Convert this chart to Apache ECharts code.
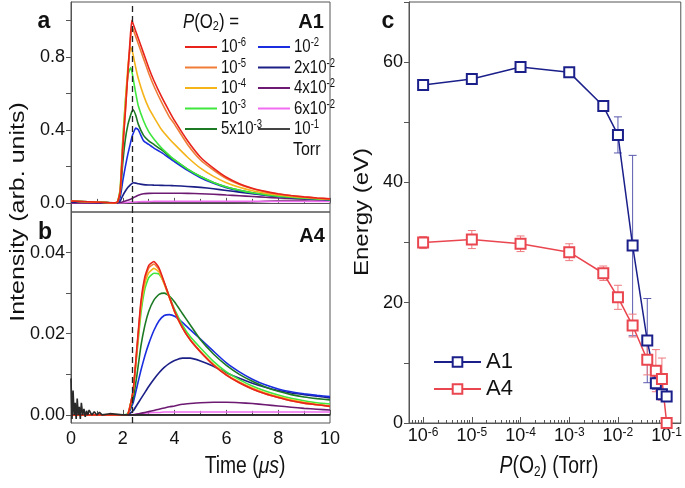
<!DOCTYPE html>
<html><head><meta charset="utf-8">
<script src="https://cdn.jsdelivr.net/npm/echarts@6/dist/echarts.min.js"></script>
<style>html,body{margin:0;padding:0;background:#fff}#c{width:685px;height:488px}</style>
</head><body><div id="c"></div>
<script>
// ---------- DATA ----------
const seriesNames = ['10^-6','10^-5','10^-4','10^-3','5x10^-3','10^-2','2x10^-2','4x10^-2','6x10^-2','10^-1'];
const dashT = 2.35;

// panel a (A1), time in microseconds
const tA = [0,1.7,1.8,1.9,2.0,2.1,2.2,2.3,2.35,2.4,2.5,2.6,2.8,3.0,3.2,3.5,3.8,4.0,4.5,5.0,5.5,6.0,6.5,7.0,7.5,8.0,8.5,9.0,9.5,10];
const a_p1e6 = [0.01,0,0.005,0.06,0.3,0.5,0.72,0.93,1.0,0.98,0.94,0.9,0.82,0.74,0.67,0.58,0.5,0.45,0.34,0.25,0.19,0.14,0.105,0.08,0.063,0.05,0.04,0.033,0.027,0.022];
const a_p1e5 = [0.01,0,0.005,0.06,0.31,0.51,0.72,0.9,0.96,0.95,0.91,0.87,0.79,0.71,0.64,0.55,0.47,0.43,0.32,0.235,0.18,0.133,0.1,0.077,0.06,0.048,0.039,0.032,0.026,0.021];
const a_p1e4 = [0.01,0,0.006,0.07,0.33,0.55,0.75,0.85,0.84,0.81,0.74,0.68,0.59,0.52,0.47,0.4,0.35,0.32,0.25,0.19,0.145,0.11,0.085,0.066,0.053,0.043,0.035,0.029,0.024,0.02];
const a_p1e3 = [0.01,0,0.006,0.08,0.35,0.56,0.7,0.74,0.72,0.68,0.6,0.53,0.45,0.39,0.35,0.3,0.26,0.235,0.185,0.144,0.112,0.087,0.069,0.055,0.045,0.037,0.031,0.026,0.022,0.018];
const a_p5e3 = [0.01,0,0.004,0.05,0.22,0.35,0.43,0.48,0.5,0.51,0.48,0.43,0.37,0.34,0.32,0.29,0.255,0.235,0.185,0.144,0.112,0.087,0.069,0.055,0.045,0.037,0.031,0.026,0.022,0.018];
const a_p1e2 = [0.01,0,0.003,0.03,0.12,0.2,0.27,0.33,0.36,0.38,0.41,0.4,0.34,0.32,0.3,0.275,0.245,0.225,0.178,0.138,0.107,0.083,0.066,0.053,0.043,0.035,0.029,0.024,0.02,0.017];
const a_p2e2 = [0.005,0,0.002,0.01,0.04,0.065,0.085,0.1,0.105,0.11,0.108,0.105,0.1,0.098,0.097,0.096,0.095,0.094,0.09,0.085,0.077,0.068,0.059,0.05,0.042,0.035,0.03,0.026,0.022,0.018];
const a_p4e2 = [0,0,0,0.002,0.006,0.01,0.015,0.02,0.024,0.028,0.035,0.042,0.05,0.052,0.053,0.053,0.053,0.053,0.052,0.05,0.047,0.043,0.039,0.035,0.031,0.027,0.024,0.021,0.018,0.016];
const a_p6e2 = [0,0,0,0,0.001,0.002,0.003,0.004,0.004,0.005,0.005,0.006,0.007,0.007,0.008,0.008,0.008,0.008,0.008,0.008,0.008,0.008,0.008,0.008,0.008,0.008,0.008,0.008,0.008,0.008];
const a_p1e1 = [0.008,0,0,0,0,0,0,0,0,0,0,0,0,0,0,0,0,0,0,0,0,0,0.002,0.005,0.008,0.011,0.013,0.015,0.017,0.018];

// panel b (A4)
const tB = [0,0.1,0.2,0.3,0.4,0.5,0.7,1.0,1.5,2.0,2.2,2.4,2.55,2.7,2.85,3.0,3.2,3.4,3.6,3.8,4.0,4.3,4.6,5.0,5.5,6.0,6.5,7.0,7.5,8.0,8.5,9.0,9.5,10];
const z10 = [0,0,0,0,0,0,0,0,0,0];
const b_p1e6 = z10.concat([0.0002,0.006,0.017,0.028,0.034,0.0368,0.0378,0.0362,0.0327,0.029,0.0255,0.0215,0.0185,0.0155,0.0123,0.0098,0.0079,0.0064,0.0052,0.0043,0.0035,0.0029,0.0025,0.0021]);
const b_p1e5 = z10.concat([0.0002,0.006,0.0165,0.0273,0.0333,0.0362,0.0372,0.0358,0.0325,0.029,0.0255,0.0215,0.0185,0.0155,0.0123,0.0098,0.0079,0.0064,0.0052,0.0043,0.0035,0.0029,0.0025,0.0021]);
const b_p1e4 = z10.concat([0.0002,0.006,0.016,0.0265,0.0322,0.035,0.0361,0.0352,0.0322,0.0288,0.0254,0.0215,0.0186,0.0157,0.0125,0.01,0.0081,0.0066,0.0054,0.0045,0.0037,0.0031,0.0026,0.0022]);
const b_p1e3 = z10.concat([0.0003,0.006,0.0155,0.025,0.031,0.0338,0.0349,0.0347,0.0325,0.0292,0.026,0.0222,0.0193,0.0165,0.0132,0.0106,0.0087,0.0071,0.0059,0.0049,0.0041,0.0035,0.003,0.0027]);
const b_p5e3 = z10.concat([0.0002,0.004,0.01,0.017,0.022,0.0255,0.0283,0.0297,0.03,0.0293,0.0278,0.025,0.0222,0.0185,0.015,0.0122,0.01,0.0083,0.0069,0.0058,0.005,0.0044,0.004,0.0037]);
const b_p1e2 = z10.concat([0.0002,0.003,0.007,0.011,0.0145,0.0175,0.0208,0.0232,0.0245,0.0247,0.0243,0.0228,0.021,0.0187,0.0157,0.0128,0.0106,0.0088,0.0074,0.0064,0.0057,0.0052,0.0048,0.0045]);
const b_p2e2 = z10.concat([0.0001,0.001,0.0025,0.004,0.0055,0.007,0.0088,0.0104,0.0117,0.0127,0.0134,0.014,0.014,0.0133,0.012,0.0104,0.009,0.0078,0.0068,0.006,0.0054,0.005,0.0046,0.0042]);
const b_p4e2 = z10.concat([0,0,0.0002,0.0004,0.0006,0.0008,0.0011,0.0014,0.0017,0.002,0.0022,0.0026,0.0028,0.003,0.0031,0.0031,0.003,0.0028,0.0025,0.0022,0.0019,0.0016,0.0014,0.0012]);
const b_p6e2 = z10.concat([0,0.0001,0.0002,0.0003,0.0004,0.0005,0.0006,0.0006,0.0007,0.0007,0.0007,0.0007,0.0007,0.0007,0.0007,0.0007,0.0007,0.0007,0.0007,0.0007,0.0007,0.0007,0.0007,0.0007]);
// 10^-1 Torr trace in panel b: only the early ringing near t = 0 is visible
const tB_p1e1 = [0,0.04,0.08,0.12,0.16,0.2,0.24,0.28,0.32,0.36,0.4,0.45,0.5,0.55,0.6,0.65,0.7,0.8,0.9,1.0,1.1,1.2,1.5,2.0,10];
const b_p1e1 = [0.009,-0.001,0.006,0.0,0.003,-0.001,0.004,0.0,0.002,-0.001,0.003,0.0,0.0015,-0.0005,0.001,0.0,0.0012,0.0,0.0008,0.0,0.0006,0.0,0.0003,0,0];

// panel c
const pressures = [1e-6,1e-5,1e-4,1e-3,5e-3,1e-2,2e-2,4e-2,6e-2,8e-2,1e-1];
const energyA1 = [56.2,57.2,59.2,58.3,52.7,47.9,29.5,13.7,6.6,4.8,4.4];
const errA1 = [0.5,0.6,0.7,0.6,0.8,3,15,7,1,0.8,0.5];
const energyA4 = [30.0,30.5,29.8,28.4,24.9,20.9,16.2,10.5,8.7,7.3,0.0];
const errA4 = [1,1.5,1.3,1.4,1.2,2,1.9,2.5,3.5,3.5,0.5];
const decadeExps = [-6,-5,-4,-3,-2,-1];

// ---------- STYLE ----------
const colors = ['#e8231c','#ef7d38','#f4b41a','#3ee63e','#1c7a25','#1a2ee0','#1b1f86','#6c1a72','#f06cf0','#444444'];
const FN = '"Liberation Sans",Arial,sans-serif';
const TXT = '#111';
const AX = '#555';
const SQ = 0.84; // horizontal squeeze of the original lettering
const rich = {
  s: {fontSize: 12, fontFamily: FN, verticalAlign: 'top', lineHeight: 12, color: TXT},
  sub: {fontSize: 14, fontFamily: FN, lineHeight: 14, padding: [12,0,0,0], verticalAlign: 'bottom', color: TXT},
  i: {fontStyle: 'italic', fontSize: 23, fontFamily: FN, color: TXT, lineHeight: 24},
  n: {fontSize: 23, fontFamily: FN, color: TXT, lineHeight: 24},
  ls: {fontSize: 12, fontFamily: FN, verticalAlign: 'top', lineHeight: 12, color: TXT},
  ln: {fontSize: 19, fontFamily: FN, color: TXT, lineHeight: 20},
  li: {fontStyle: 'italic', fontSize: 20, fontFamily: FN, color: TXT, lineHeight: 22},
  lnn: {fontSize: 20, fontFamily: FN, color: TXT, lineHeight: 22},
  lsub: {fontSize: 13, fontFamily: FN, lineHeight: 13, padding: [11,0,0,0], verticalAlign: 'bottom', color: TXT}
};

const aData = [a_p1e6,a_p1e5,a_p1e4,a_p1e3,a_p5e3,a_p1e2,a_p2e2,a_p4e2,a_p6e2,a_p1e1];
const bData = [b_p1e6,b_p1e5,b_p1e4,b_p1e3,b_p5e3,b_p1e2,b_p2e2,b_p4e2,b_p6e2,b_p1e1];

const series = [];
for (let i = seriesNames.length - 1; i >= 0; i--) {
  const tb = i === 9 ? tB_p1e1 : tB;
  series.push({
    type: 'line', name: seriesNames[i], xAxisIndex: 0, yAxisIndex: 0,
    data: tA.map((t, k) => [t, aData[i][k]]), symbol: 'none', smooth: 0.15,
    lineStyle: {color: colors[i], width: 1.6}, itemStyle: {color: colors[i]},
    z: 2, animation: false
  });
  series.push({
    type: 'line', name: seriesNames[i], xAxisIndex: 1, yAxisIndex: 1,
    data: tb.map((t, k) => [t, bData[i][k]]), symbol: 'none', smooth: i === 9 ? 0 : 0.15,
    lineStyle: {color: i === 9 ? '#2a2a2a' : colors[i], width: 1.6}, itemStyle: {color: colors[i]},
    z: i === 9 ? 3 : 2, animation: false
  });
}
const dashML = {silent: true, symbol: 'none', animation: false, label: {show: false},
  lineStyle: {type: [6,4], color: '#222', width: 1.3}, data: [{xAxis: dashT}]};
series[0].markLine = dashML;
series[1].markLine = dashML;

function errSeries(vals, errs, color) {
  return {
    type: 'custom', xAxisIndex: 2, yAxisIndex: 2, clip: true, silent: true, z: 1, animation: false,
    data: pressures.map((p, i) => [Math.log10(p), vals[i] - errs[i], vals[i] + errs[i]]),
    encode: {x: 0, y: [1, 2]},
    renderItem: function (params, api) {
      const x = api.value(0);
      const lo = api.coord([x, api.value(1)]);
      const hi = api.coord([x, api.value(2)]);
      const w = 4;
      const st = {stroke: color, lineWidth: 1};
      return {type: 'group', children: [
        {type: 'line', shape: {x1: lo[0], y1: lo[1], x2: hi[0], y2: hi[1]}, style: st},
        {type: 'line', shape: {x1: lo[0]-w, y1: lo[1], x2: lo[0]+w, y2: lo[1]}, style: st},
        {type: 'line', shape: {x1: hi[0]-w, y1: hi[1], x2: hi[0]+w, y2: hi[1]}, style: st}
      ]};
    }
  };
}
series.push(errSeries(energyA1, errA1, '#5a5ab0'));
series.push(errSeries(energyA4, errA4, '#ee7a7f'));
const cA1 = '#1b1f8a', cA4 = '#ea4650';
series.push({type: 'line', name: 'A1', xAxisIndex: 2, yAxisIndex: 2, animation: false,
  data: pressures.map((p, i) => [Math.log10(p), energyA1[i]]),
  symbol: 'rect', symbolSize: 10, lineStyle: {color: cA1, width: 1.5},
  itemStyle: {color: '#fff', borderColor: cA1, borderWidth: 2}, z: 3});
series.push({type: 'line', name: 'A4', xAxisIndex: 2, yAxisIndex: 2, animation: false,
  data: pressures.map((p, i) => [Math.log10(p), energyA4[i]]),
  symbol: 'rect', symbolSize: 10, lineStyle: {color: cA4, width: 1.5},
  itemStyle: {color: '#fff', borderColor: cA4, borderWidth: 2}, z: 3});

const minorExps = [];
for (let d = -7; d <= -1; d++) for (let k = 2; k <= 9; k++) {
  const v = d + Math.log10(k);
  if (v > -6.29 && v < -0.71) minorExps.push(v);
}

const axLine = {show: true, lineStyle: {color: AX, width: 1}};
const tickStyle = {color: AX, width: 1};
const lblStyle = {color: TXT, fontSize: 18, fontFamily: FN};

// legend of panel a (two columns of line keys)
const legendGraphics = [];
seriesNames.forEach((name, i) => {
  const col = i < 5 ? 0 : 1, row = i % 5;
  const x0 = col === 0 ? 185 : 258;
  const y = 47 + row * 20.5;
  legendGraphics.push({type: 'line', shape: {x1: x0, y1: y, x2: x0 + 32, y2: y}, style: {stroke: colors[i], lineWidth: 2}});
  legendGraphics.push({type: 'text', x: x0 + 36, y: y, scaleX: 0.79,
    style: {text: '{ln|' + name.replace(/\^(.+)$/, '}{ls|$1}'), rich: rich, fill: TXT, align: 'left', verticalAlign: 'middle'}});
});

const option = {
  backgroundColor: '#fff',
  animation: false,
  grid: [
    {left: 71, top: 2, width: 259, height: 210, show: true, borderColor: AX, borderWidth: 1},
    {left: 71, top: 212, width: 259, height: 211, show: true, borderColor: AX, borderWidth: 1},
    {left: 409, top: 2, width: 273, height: 421, show: true, borderColor: AX, borderWidth: 1}
  ],
  xAxis: [
    {gridIndex: 0, type: 'value', min: 0, max: 10, interval: 2, position: 'bottom', axisLine: axLine,
     axisTick: {inside: true, length: 5, lineStyle: tickStyle}, minorTick: {show: true, splitNumber: 2, length: 4, lineStyle: tickStyle},
     axisLabel: {show: false}, splitLine: {show: false}},
    {gridIndex: 1, type: 'value', min: 0, max: 10, interval: 2, position: 'bottom', axisLine: axLine,
     axisTick: {inside: true, length: 5, lineStyle: tickStyle}, minorTick: {show: true, splitNumber: 2, length: 4, lineStyle: tickStyle},
     axisLabel: Object.assign({margin: 7}, lblStyle), splitLine: {show: false}},
    {gridIndex: 2, type: 'value', min: -6.29, max: -0.71, position: 'bottom', axisLine: axLine,
     axisTick: {inside: true, length: 6, lineStyle: tickStyle, customValues: decadeExps},
     axisLabel: Object.assign({margin: 4, customValues: decadeExps, formatter: v => '10{s|' + Math.round(v) + '}', rich: rich}, lblStyle),
     splitLine: {show: false}},
    {gridIndex: 2, type: 'value', min: -6.29, max: -0.71, position: 'bottom', axisLine: {show: false},
     axisTick: {inside: true, length: 3, lineStyle: tickStyle, customValues: minorExps},
     axisLabel: {show: false}, splitLine: {show: false}}
  ],
  yAxis: [
    {gridIndex: 0, type: 'value', min: -0.05, max: 1.1, axisLine: axLine,
     axisTick: {inside: false, length: 5, lineStyle: tickStyle, customValues: [0,0.2,0.4,0.6,0.8,1.0]},
     axisLabel: Object.assign({margin: 6, customValues: [0,0.4,0.8], formatter: v => v.toFixed(1)}, lblStyle),
     splitLine: {show: false}},
    {gridIndex: 1, type: 'value', min: -0.002, max: 0.05, axisLine: axLine,
     axisTick: {inside: false, length: 5, lineStyle: tickStyle, customValues: [0,0.01,0.02,0.03,0.04]},
     axisLabel: Object.assign({margin: 6, customValues: [0,0.02,0.04], formatter: v => v.toFixed(2)}, lblStyle),
     splitLine: {show: false}},
    {gridIndex: 2, type: 'value', min: 0, max: 70, interval: 10, axisLine: axLine,
     axisTick: {inside: false, length: 5, lineStyle: tickStyle},
     axisLabel: Object.assign({margin: 6, formatter: v => (v % 20 === 0 ? String(v) : '')}, lblStyle),
     splitLine: {show: false}}
  ],
  legend: [
    {data: ['A1', 'A4'], left: 433, top: 351, orient: 'vertical', padding: 0, itemGap: 5,
     itemWidth: 47, itemHeight: 12, selectedMode: false,
     textStyle: {fontSize: 22, fontFamily: FN, color: TXT, lineHeight: 22}}
  ],
  graphic: legendGraphics.concat([
    {type: 'text', x: 44, y: 22, style: {text: 'a', font: 'bold 23px ' + FN, fill: TXT, align: 'center', verticalAlign: 'middle'}},
    {type: 'text', x: 45, y: 233, style: {text: 'b', font: 'bold 23px ' + FN, fill: TXT, align: 'center', verticalAlign: 'middle'}},
    {type: 'text', x: 388, y: 22, style: {text: 'c', font: 'bold 23px ' + FN, fill: TXT, align: 'center', verticalAlign: 'middle'}},
    {type: 'text', x: 311, y: 22, style: {text: 'A1', font: 'bold 20px ' + FN, fill: TXT, align: 'center', verticalAlign: 'middle'}},
    {type: 'text', x: 312, y: 236, style: {text: 'A4', font: 'bold 20px ' + FN, fill: TXT, align: 'center', verticalAlign: 'middle'}},
    {type: 'text', x: 183, y: 22, scaleX: SQ, style: {text: '{li|P}{lnn|(O}{lsub|2}{lnn|) =}', rich: rich, fill: TXT, align: 'left', verticalAlign: 'middle'}},
    {type: 'text', x: 293, y: 150, scaleX: SQ, style: {text: 'Torr', font: '19px ' + FN, fill: TXT, align: 'left', verticalAlign: 'middle'}},
    {type: 'text', x: 18, y: 212, rotation: Math.PI / 2, scaleY: SQ, style: {text: 'Intensity (arb. units)', font: '25px ' + FN, fill: TXT, align: 'center', verticalAlign: 'middle'}},
    {type: 'text', x: 245, y: 467, scaleX: SQ, style: {text: '{n|Time (}{i|μs}{n|)}', rich: rich, fill: TXT, align: 'center', verticalAlign: 'middle'}},
    {type: 'text', x: 362, y: 212, rotation: Math.PI / 2, scaleY: SQ, style: {text: 'Energy (eV)', font: '24px ' + FN, fill: TXT, align: 'center', verticalAlign: 'middle'}},
    {type: 'text', x: 549, y: 467, scaleX: SQ, style: {text: '{i|P}{n|(O}{sub|2}{n|) (Torr)}', rich: rich, fill: TXT, align: 'center', verticalAlign: 'middle'}}
  ]),
  series: series
};
const chart = echarts.init(document.getElementById('c'), null, {renderer: 'canvas'});
chart.setOption(option);
</script></body></html>
